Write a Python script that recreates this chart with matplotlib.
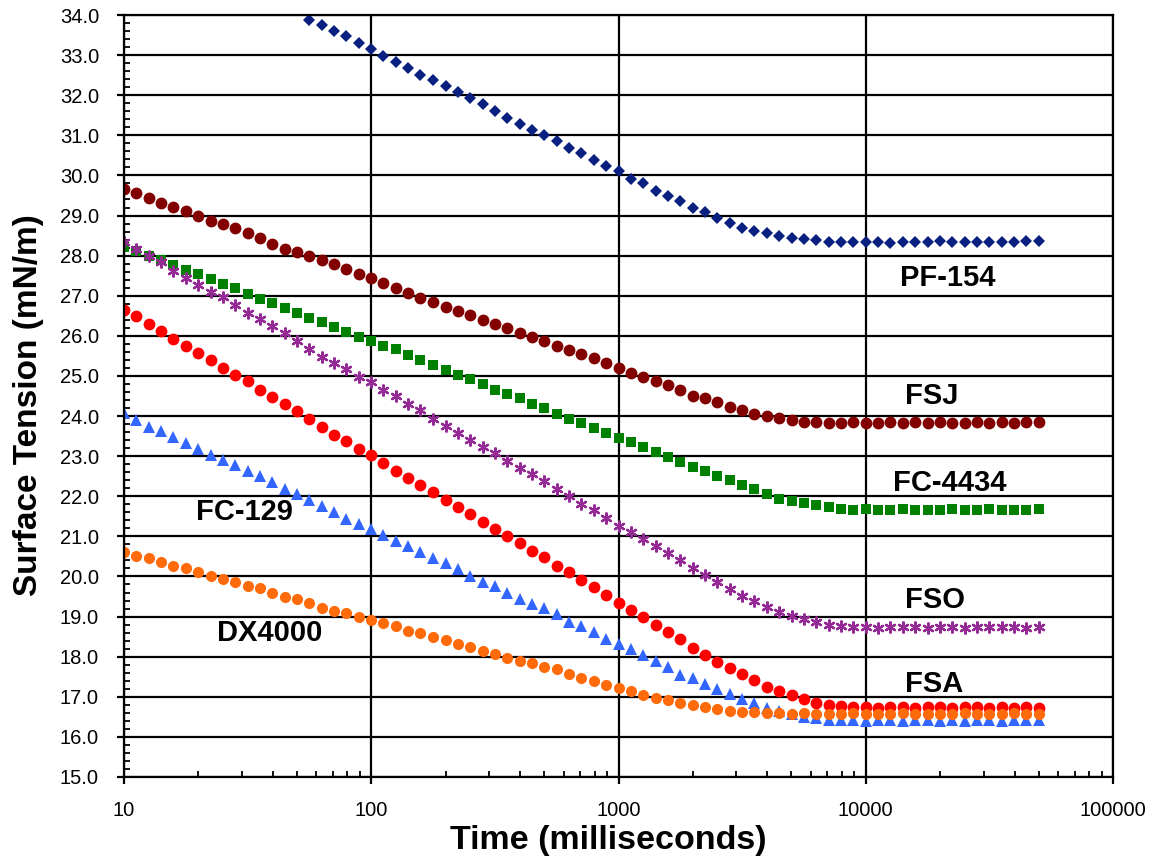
import numpy as np
import matplotlib
matplotlib.use("Agg")
import matplotlib.pyplot as plt
from matplotlib.ticker import FixedLocator, FuncFormatter, MultipleLocator

plt.rcParams['font.family'] = ['Liberation Sans', 'DejaVu Sans']

# time points (ms), shared by all the series
time_ms = [10, 11.2, 12.6, 14.1, 15.8, 17.8, 20.0, 22.4, 25.1, 28.2,
           31.6, 35.5, 39.8, 44.7, 50.1, 56.2, 63.1, 70.8, 79.4, 89.1,
           100, 112, 126, 141, 158, 178, 200, 224, 251, 282,
           316, 355, 398, 447, 501, 562, 631, 708, 794, 891,
           1000, 1122, 1259, 1413, 1585, 1778, 1995, 2239, 2512, 2818,
           3162, 3548, 3981, 4467, 5012, 5623, 6310, 7079, 7943, 8913,
           10000, 11220, 12589, 14125, 15849, 17783, 19953, 22387, 25119, 28184,
           31623, 35481, 39811, 44668, 50119]

nan = np.nan
pf154 = [nan, nan, nan, nan, nan, nan, nan, nan, nan, nan,
         nan, nan, nan, nan, nan, 33.88, 33.75, 33.60, 33.47, 33.30,
         33.15, 32.97, 32.82, 32.67, 32.50, 32.38, 32.22, 32.08, 31.92, 31.79,
         31.60, 31.44, 31.28, 31.13, 31.00, 30.85, 30.68, 30.55, 30.38, 30.24,
         30.10, 29.92, 29.80, 29.60, 29.48, 29.35, 29.20, 29.08, 28.95, 28.82,
         28.70, 28.62, 28.56, 28.50, 28.45, 28.41, 28.38, 28.35, 28.34, 28.33,
         28.35, 28.34, 28.32, 28.35, 28.33, 28.34, 28.36, 28.33, 28.35, 28.34,
         28.33, 28.35, 28.34, 28.36, 28.37]

fsj = [29.66, 29.56, 29.43, 29.31, 29.21, 29.12, 28.99, 28.87, 28.78, 28.68,
       28.56, 28.43, 28.29, 28.17, 28.10, 27.99, 27.88, 27.78, 27.66, 27.55,
       27.45, 27.32, 27.20, 27.08, 26.95, 26.84, 26.73, 26.62, 26.51, 26.40,
       26.30, 26.19, 26.08, 25.98, 25.88, 25.74, 25.64, 25.55, 25.44, 25.32,
       25.19, 25.08, 24.97, 24.88, 24.77, 24.64, 24.50, 24.44, 24.34, 24.23,
       24.14, 24.06, 24.01, 23.95, 23.90, 23.86, 23.84, 23.83, 23.82, 23.84,
       23.83, 23.82, 23.84, 23.83, 23.85, 23.82, 23.84, 23.83, 23.82, 23.84,
       23.83, 23.85, 23.83, 23.84, 23.84]

fc4434 = [28.21, 28.12, 28.00, 27.90, 27.77, 27.65, 27.54, 27.42, 27.30, 27.19,
          27.05, 26.92, 26.82, 26.70, 26.57, 26.45, 26.35, 26.23, 26.09, 25.98,
          25.86, 25.75, 25.66, 25.52, 25.40, 25.27, 25.14, 25.02, 24.92, 24.80,
          24.66, 24.55, 24.45, 24.30, 24.19, 24.06, 23.93, 23.83, 23.70, 23.57,
          23.46, 23.35, 23.22, 23.11, 22.97, 22.85, 22.74, 22.63, 22.50, 22.40,
          22.28, 22.17, 22.05, 21.94, 21.88, 21.82, 21.77, 21.72, 21.68, 21.66,
          21.67, 21.65, 21.66, 21.67, 21.65, 21.66, 21.66, 21.67, 21.65, 21.66,
          21.67, 21.66, 21.65, 21.66, 21.67]

fso = [28.34, 28.17, 28.00, 27.84, 27.62, 27.44, 27.27, 27.10, 26.96, 26.78,
       26.56, 26.42, 26.24, 26.07, 25.88, 25.68, 25.48, 25.33, 25.18, 24.98,
       24.86, 24.66, 24.49, 24.31, 24.15, 23.92, 23.75, 23.58, 23.40, 23.24,
       23.07, 22.87, 22.70, 22.55, 22.38, 22.17, 22.00, 21.80, 21.66, 21.45,
       21.25, 21.10, 20.93, 20.76, 20.58, 20.40, 20.21, 20.04, 19.86, 19.68,
       19.52, 19.38, 19.24, 19.12, 19.02, 18.93, 18.86, 18.80, 18.77, 18.75,
       18.74, 18.72, 18.74, 18.73, 18.75, 18.72, 18.74, 18.73, 18.72, 18.75,
       18.74, 18.73, 18.74, 18.72, 18.75]

fsa = [26.64, 26.50, 26.29, 26.13, 25.93, 25.75, 25.56, 25.39, 25.20, 25.03,
       24.87, 24.64, 24.48, 24.30, 24.12, 23.92, 23.73, 23.54, 23.37, 23.19,
       23.03, 22.82, 22.62, 22.45, 22.28, 22.10, 21.90, 21.73, 21.56, 21.35,
       21.18, 21.00, 20.84, 20.63, 20.48, 20.26, 20.10, 19.90, 19.75, 19.54,
       19.33, 19.16, 18.98, 18.80, 18.61, 18.45, 18.21, 18.04, 17.87, 17.71,
       17.56, 17.42, 17.24, 17.15, 17.05, 16.95, 16.85, 16.80, 16.77, 16.75,
       16.74, 16.73, 16.75, 16.74, 16.72, 16.75, 16.74, 16.73, 16.75, 16.74,
       16.73, 16.74, 16.72, 16.74, 16.73]

fc129 = [24.07, 23.90, 23.73, 23.62, 23.47, 23.33, 23.18, 23.04, 22.90, 22.78,
         22.63, 22.50, 22.35, 22.18, 22.05, 21.90, 21.76, 21.62, 21.43, 21.32,
         21.18, 21.04, 20.89, 20.75, 20.61, 20.46, 20.33, 20.18, 20.02, 19.87,
         19.76, 19.60, 19.44, 19.32, 19.21, 19.06, 18.87, 18.77, 18.61, 18.45,
         18.31, 18.18, 18.05, 17.89, 17.75, 17.55, 17.46, 17.32, 17.20, 17.06,
         16.94, 16.85, 16.72, 16.64, 16.57, 16.50, 16.46, 16.43, 16.42, 16.41,
         16.40, 16.42, 16.41, 16.40, 16.41, 16.42, 16.40, 16.41, 16.40, 16.42,
         16.41, 16.40, 16.41, 16.42, 16.41]

dx4000 = [20.61, 20.52, 20.45, 20.37, 20.27, 20.20, 20.12, 20.02, 19.93, 19.85,
          19.77, 19.71, 19.60, 19.50, 19.43, 19.33, 19.22, 19.15, 19.08, 19.00,
          18.92, 18.84, 18.76, 18.64, 18.58, 18.49, 18.41, 18.32, 18.23, 18.14,
          18.06, 17.97, 17.89, 17.84, 17.74, 17.69, 17.57, 17.47, 17.39, 17.30,
          17.23, 17.15, 17.04, 16.98, 16.91, 16.85, 16.79, 16.74, 16.69, 16.65,
          16.62, 16.61, 16.60, 16.59, 16.58, 16.59, 16.58, 16.57, 16.58, 16.59,
          16.58, 16.57, 16.58, 16.59, 16.57, 16.58, 16.58, 16.57, 16.59, 16.58,
          16.57, 16.58, 16.59, 16.58, 16.57]

# series labels drawn on the chart: (text, time, tension)
labels = [("PF-154", 21400, 27.43), ("FSJ", 18500, 24.5), ("FC-4434", 21800, 22.32),
          ("FSO", 19000, 19.41), ("FSA", 18900, 17.32), ("FC-129", 30.8, 21.62),
          ("DX4000", 38.9, 18.6)]

fig = plt.figure(figsize=(11.59, 8.59), dpi=100)
ax = fig.add_axes([124/1159, 1 - 777/859, (1113 - 124)/1159, (777 - 15)/859])

t = np.array(time_ms)
ax.plot(t, pf154, ls='none', marker='D', ms=6, color='#0a2080', mew=0)
ax.plot(t, fsj, ls='none', marker='o', ms=8.5, color='#820000', mew=0)
ax.plot(t, fc4434, ls='none', marker='s', ms=6.5, color='#008000', mew=0)
ax.plot(t, fso, ls='none', marker=(6, 2, 0), ms=8.5, color='#952a96', mew=1.6)
ax.plot(t, fsa, ls='none', marker='o', ms=8.5, color='#ff0000', mew=0)
ax.plot(t, fc129, ls='none', marker='^', ms=8.5, color='#3366ff', mew=0)
ax.plot(t, dx4000, ls='none', marker='o', ms=8, color='#ff6a0a', mew=0)

ax.set_xscale('log')
ax.set_xlim(10, 100000)
ax.set_ylim(15, 34)

ax.xaxis.set_major_locator(FixedLocator([10, 100, 1000, 10000, 100000]))
ax.xaxis.set_major_formatter(FuncFormatter(lambda v, p: '%d' % v))
ax.yaxis.set_major_locator(MultipleLocator(1.0))
ax.yaxis.set_minor_locator(MultipleLocator(0.2))
ax.yaxis.set_major_formatter(FuncFormatter(lambda v, p: '%.1f' % v))

ax.grid(True, which='major', color='black', lw=1.6)
ax.set_axisbelow(True)
for s in ax.spines.values():
    s.set_linewidth(1.6)
    s.set_color('black')

ax.tick_params(which='major', direction='out', length=5, width=1.6, labelsize=14.5)
ax.tick_params(which='minor', direction='in', length=4, width=1.3)
ax.tick_params(axis='y', which='major', pad=13)
ax.tick_params(axis='x', which='major', pad=12)

for txt, x, y in labels:
    ax.text(x, y, txt, fontsize=21, fontweight='bold', ha='center', va='center')

fig.text(608/1159, 1 - 840/859, 'Time (milliseconds)', fontsize=24.5, fontweight='bold',
         ha='center', va='center')
fig.text(29/1159, 1 - 405/859, 'Surface Tension (mN/m)', fontsize=24, fontweight='bold',
         ha='center', va='center', rotation=90)

fig.savefig('out.png', dpi=100)
